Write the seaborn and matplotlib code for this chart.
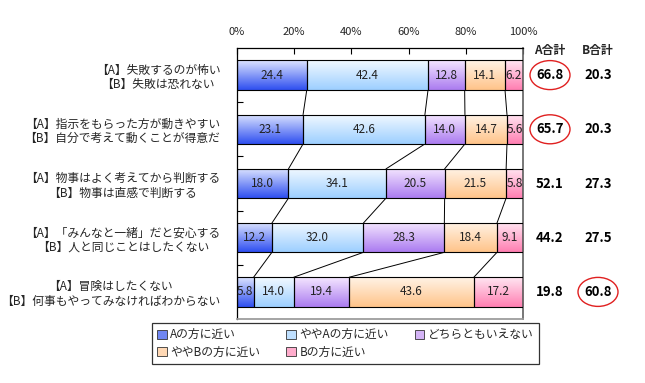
import numpy as np
import pandas as pd
import matplotlib
matplotlib.use("Agg")
import matplotlib.pyplot as plt
import matplotlib.transforms as mtransforms
from matplotlib.colors import LinearSegmentedColormap
from matplotlib.patches import Ellipse, Patch
import seaborn as sns

# data
questions = [
    "【A】失敗するのが怖い\n【B】失敗は恐れない",
    "【A】指示をもらった方が動きやすい\n【B】自分で考えて動くことが得意だ",
    "【A】物事はよく考えてから判断する\n【B】物事は直感で判断する",
    "【A】「みんなと一緒」だと安心する\n【B】人と同じことはしたくない",
    "【A】冒険はしたくない\n【B】何事もやってみなければわからない",
]
segments = ["Aの方に近い", "ややAの方に近い", "どちらともいえない", "ややBの方に近い", "Bの方に近い"]
near_a = [24.4, 23.1, 18.0, 12.2, 5.8]
some_a = [42.4, 42.6, 34.1, 32.0, 14.0]
neither = [12.8, 14.0, 20.5, 28.3, 19.4]
some_b = [14.1, 14.7, 21.5, 18.4, 43.6]
near_b = [6.2, 5.6, 5.8, 9.1, 17.2]
a_total = [66.8, 65.7, 52.1, 44.2, 19.8]
b_total = [20.3, 20.3, 27.3, 27.5, 60.8]
xticks = [0, 20, 40, 60, 80, 100]

# gradient colours (top, bottom) and legend colour for each segment
grads = [("#dce4ff", "#2f4ff0"), ("#f2f9ff", "#9dcfff"), ("#f4e6ff", "#ab7cf0"),
         ("#fff3e6", "#ffc48a"), ("#ffe6f2", "#ff7fb2")]
legend_cols = ["#6f86f2", "#bfe0ff", "#d4b4f6", "#ffd8b4", "#ffaccc"]

sns.set_theme(style="white")
plt.rcParams["font.family"] = ["Noto Sans CJK JP", "DejaVu Sans"]

fig = plt.figure(figsize=(6.45, 3.83), dpi=100)
ax = fig.add_axes([237 / 645, 1 - 319 / 383, 286 / 645, 271 / 383])

series = [near_a, some_a, neither, some_b, near_b]
left = np.zeros(len(questions))
bar_h = 0.54
for i, vals in enumerate(series):
    df = pd.DataFrame({"q": questions, "v": vals})
    sns.barplot(data=df, x="v", y="q", order=questions, orient="h", left=left.copy(),
                color=grads[i][1], width=bar_h, edgecolor="black", linewidth=0.8,
                ax=ax, zorder=3)
    left = left + np.array(vals)

# gradient fill clipped to each bar
for i, cont in enumerate(ax.containers):
    cmap = LinearSegmentedColormap.from_list("g%d" % i, [grads[i][0], grads[i][1]])
    grad = np.linspace(0, 1, 64).reshape(-1, 1)
    for p in cont.patches:
        x0, y0, w, h = p.get_x(), p.get_y(), p.get_width(), p.get_height()
        im = ax.imshow(grad, cmap=cmap, extent=[x0, x0 + w, y0 + h, y0],
                       aspect="auto", zorder=2, interpolation="bilinear")
        im.set_clip_path(p)
        p.set_facecolor("none")
    ax.bar_label(cont, labels=["%.1f" % v for v in series[i]], label_type="center",
                 fontsize=8.5, color="#222222", padding=0)

# connector lines between bars
cum = np.cumsum(np.array(series), axis=0)
for k in range(4):
    for r in range(len(questions) - 1):
        ax.plot([cum[k, r], cum[k, r + 1]], [r + bar_h / 2, r + 1 - bar_h / 2],
                color="black", lw=0.7, zorder=1)

ax.set_xlim(0, 100)
ax.set_ylim(len(questions) - 0.5, -0.5)
ax.set_xlabel("")
ax.set_ylabel("")
ax.xaxis.tick_top()
ax.set_xticks(xticks)
ax.set_xticklabels(["%d%%" % t for t in xticks], fontsize=8)
ax.tick_params(axis="x", direction="in", length=4, width=0.8, color="black", pad=8, top=True)
ax.set_yticks(range(len(questions)))
ax.set_yticklabels(questions, fontsize=8.5, multialignment="center", linespacing=1.15)
ax.set_yticks([r + 0.5 for r in range(len(questions) - 1)], minor=True)
ax.tick_params(axis="y", which="major", length=0, pad=12)
ax.tick_params(axis="y", which="minor", direction="in", length=4, width=0.8, color="black", left=True)
for s in ["top", "left"]:
    ax.spines[s].set_color("black")
    ax.spines[s].set_linewidth(0.9)
ax.spines["right"].set_color("#666666")
ax.spines["bottom"].set_color("#999999")
for s in ax.spines.values():
    s.set_visible(True)

# totals on the right
trans = mtransforms.blended_transform_factory(ax.transAxes, ax.transData)
xa, xb = (550 - 237) / 286, (598 - 237) / 286
ax.text(xa, -0.46, "A合計", transform=trans, ha="center", va="center", fontsize=8.5, fontweight="bold")
ax.text(xb, -0.46, "B合計", transform=trans, ha="center", va="center", fontsize=8.5, fontweight="bold")
for r in range(len(questions)):
    for x, v in [(xa, a_total[r]), (xb, b_total[r])]:
        ax.text(x, r, "%.1f" % v, transform=trans, ha="center", va="center",
                fontsize=9.5, fontweight="bold", color="black")
        if v >= 60:
            ax.add_patch(Ellipse((x, r), 40 / 286, 29 / 54.2, transform=trans, fill=False,
                                 edgecolor="#e02020", lw=1.0, clip_on=False))

# legend
handles = [Patch(facecolor=legend_cols[i], edgecolor="#333333", linewidth=0.6, label=segments[i])
           for i in range(5)]
order = [0, 3, 1, 4, 2]
fig.legend([handles[i] for i in order], [segments[i] for i in order], ncol=3,
           loc="upper left", bbox_to_anchor=(152 / 645, 1 - 323 / 383, 387 / 645, 0.0),
           mode="expand", fontsize=8.5, frameon=True, fancybox=False, edgecolor="black",
           handlelength=0.8, handleheight=0.8, handletextpad=0.3, borderpad=0.45,
           labelspacing=0.35, borderaxespad=0)
fig.get_children()[-1].get_frame().set_linewidth(0.9)

fig.savefig("out.png", dpi=100)
